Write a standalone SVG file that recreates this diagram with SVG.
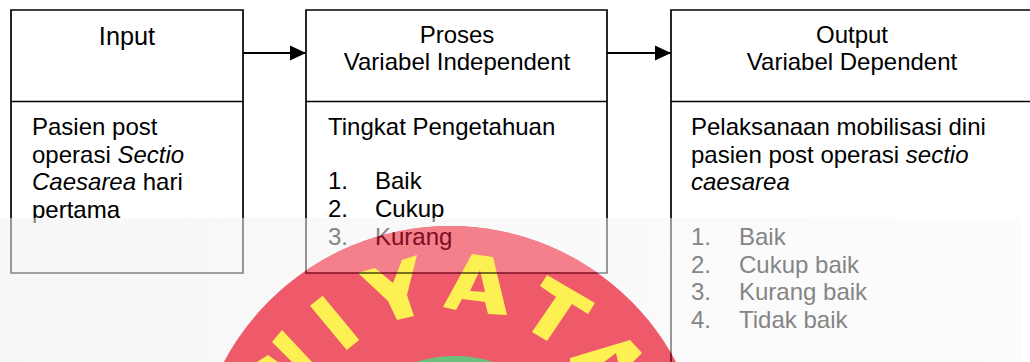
<svg xmlns="http://www.w3.org/2000/svg" width="1030" height="362" viewBox="0 0 1030 362">
<style>
text{font-family:"Liberation Sans",Arial,sans-serif;font-size:24px;fill:#000}
text.k{fill:url(#ink)}
text.g{fill:#858585}
.c{text-anchor:middle}
.i{font-style:italic}
.b{fill:none;stroke:url(#ink);stroke-width:1.7}
</style>
<defs>
<marker id="ah" markerUnits="userSpaceOnUse" markerWidth="16" markerHeight="16" refX="16" refY="8" orient="auto"><path d="M0 0.500L16 8L0 15.500Z" fill="#000"/></marker>
<linearGradient id="veil" x1="0" x2="1" y1="0" y2="0"><stop offset="0" stop-color="#f7f7f7"/><stop offset="1" stop-color="#fcfcfc"/></linearGradient>
<clipPath id="disc"><circle cx="450" cy="482" r="256"/></clipPath>
<clipPath id="band"><rect y="218" width="1030" height="144"/></clipPath>
<filter id="soft" x="-5%" y="-5%" width="110%" height="110%"><feGaussianBlur stdDeviation="0.6"/></filter>
<path id="letters" fill-rule="evenodd" d="M310 305.700L322.700 295.700L359.300 340L346.700 350ZM358 273L375 268L393 283L402 260L417 255L407 295L414 316L397 320L388 301ZM272 342L282 330L312 362H292ZM257 362L268 355L278 362ZM472 254L493 257L507 315L488 314L485 302L462 299L456 310L443 307ZM480 270L485 292L470 291ZM547 275L595 303L588 314L572 304L547 341L532 332L556 297L540 286ZM570 358L630 340L642 353L633 362H570ZM604 362L616 353L618 362Z"/>
<pattern id="ink" patternUnits="userSpaceOnUse" x="0" y="0" width="1030" height="362">
<rect width="1030" height="218" fill="#000"/>
<rect y="218" width="1030" height="144" fill="#858585"/>
<g clip-path="url(#band)"><circle cx="450" cy="482" r="256" fill="#7a0f22"/><use href="#letters" fill="#4a4710"/></g>
</pattern>
</defs>
<rect width="1030" height="362" fill="#fff"/>
<rect id="veil-band" x="0" y="218" width="1022" height="144" fill="url(#veil)"/>
<g id="watermark" filter="url(#soft)">
<circle cx="450" cy="482" r="256" fill="#ee5a6b"/>
<rect x="306" y="218" width="301" height="55" fill="#f4808c" clip-path="url(#disc)"/>
<circle cx="455" cy="486" r="130" fill="#6cc07c"/>
<use href="#letters" fill="#fdf052"/>
</g>
<g id="connectors">
<path d="M243 53H306" fill="none" stroke="#000" stroke-width="2" marker-end="url(#ah)"/>
<path d="M607 53H671" fill="none" stroke="#000" stroke-width="2" marker-end="url(#ah)"/>
</g>
<g id="node-input">
<path class="b" d="M11 10H243V273H11ZM11 101.500H243"/>
<text class="c" x="127" y="45" style="font-size:25.300px">Input</text>
<text x="32" y="135">Pasien post</text>
<text x="32" y="162.500">operasi <tspan class="i">Sectio</tspan></text>
<text x="32" y="190"><tspan class="i">Caesarea</tspan> hari</text>
<text class="k" x="32" y="217.500">pertama</text>
</g>
<g id="node-proses">
<path class="b" d="M306 10H607V273H306ZM306 101.500H607"/>
<text class="c" x="457" y="43">Proses</text>
<text class="c" x="457" y="70">Variabel Independent</text>
<text x="328" y="135">Tingkat Pengetahuan</text>
<text x="328" y="189">1.</text><text x="375" y="189">Baik</text>
<text x="328" y="216.500">2.</text><text class="k" x="375" y="216.500">Cukup</text>
<text class="g" x="328" y="244.500">3.</text><text class="k" x="375" y="244.500">Kurang</text>
</g>
<g id="node-output">
<path class="b" d="M1030 10H671V362M671 101.500H1030"/>
<text class="c" x="852" y="43">Output</text>
<text class="c" x="852" y="70">Variabel Dependent</text>
<text x="691" y="135">Pelaksanaan mobilisasi dini</text>
<text x="691" y="162.500">pasien post operasi <tspan class="i">sectio</tspan></text>
<text x="691" y="190" class="i">caesarea</text>
<text class="g" x="691" y="245">1.</text><text class="g" x="739" y="245">Baik</text>
<text class="g" x="691" y="272.500">2.</text><text class="g" x="739" y="272.500">Cukup baik</text>
<text class="g" x="691" y="300">3.</text><text class="g" x="739" y="300">Kurang baik</text>
<text class="g" x="691" y="327.500">4.</text><text class="g" x="739" y="327.500">Tidak baik</text>
</g>
</svg>
